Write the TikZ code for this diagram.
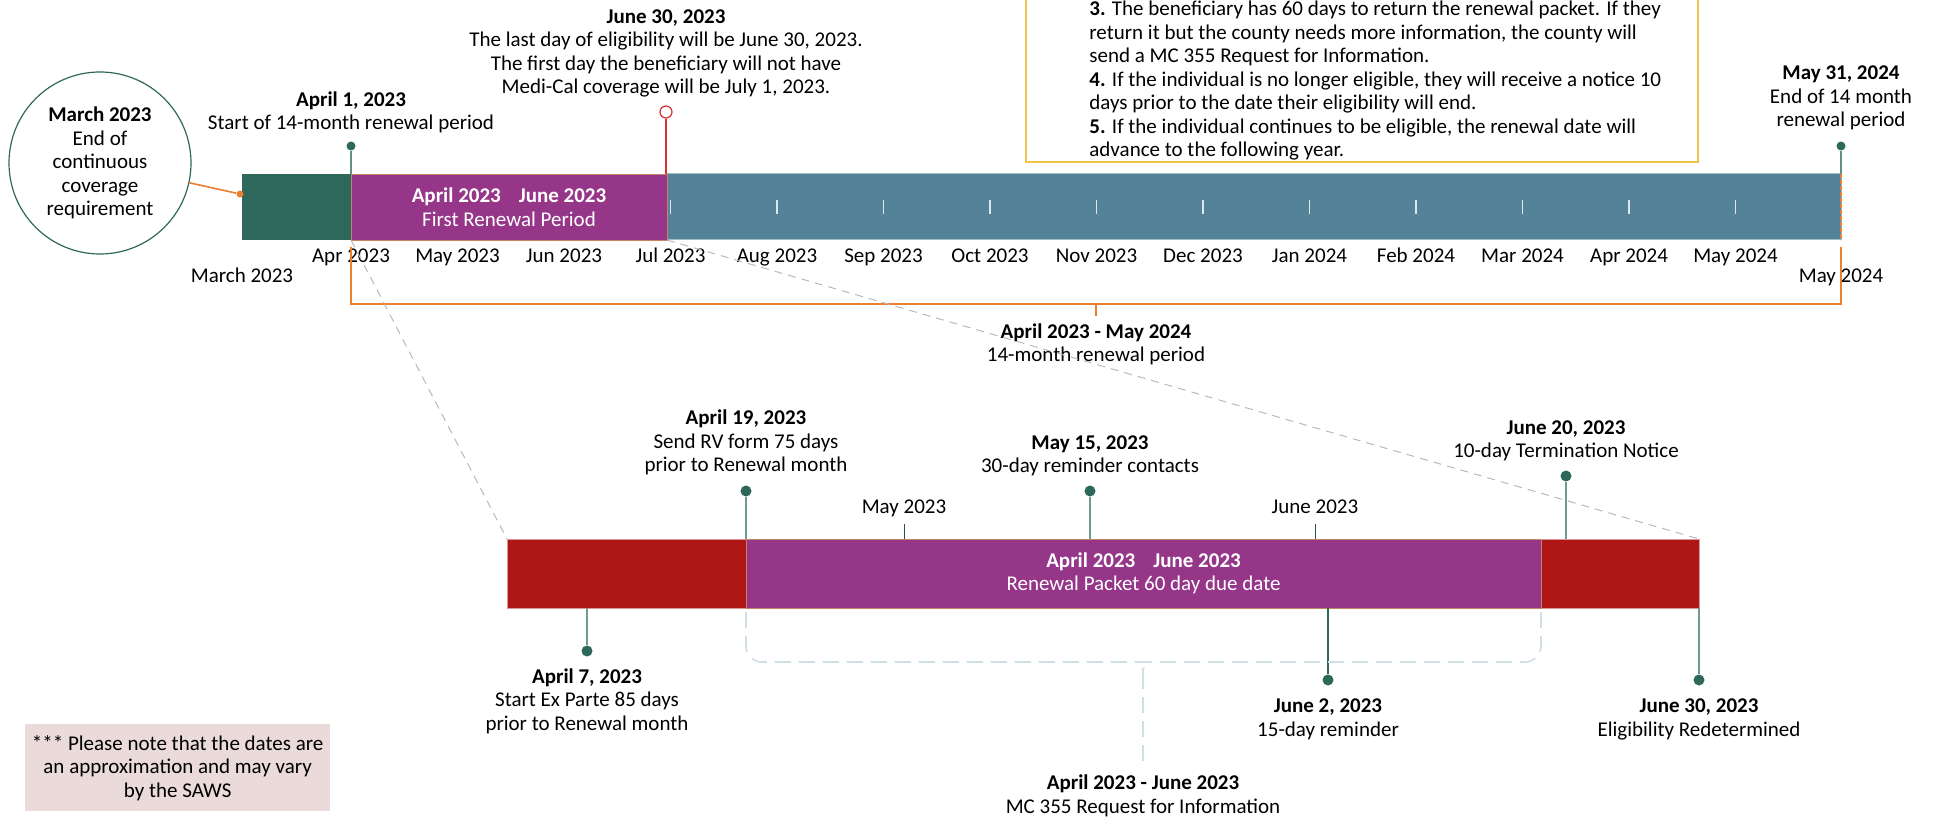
\documentclass[tikz,border=0pt]{standalone}
\usepackage{fontspec}
\setmainfont{Carlito}
\usetikzlibrary{positioning}

\definecolor{ccgreen}{RGB}{46,104,90}
\definecolor{ccstem}{RGB}{110,155,143}
\definecolor{ccpurple}{RGB}{149,54,137}
\definecolor{ccblue}{RGB}{84,131,153}
\definecolor{ccred}{RGB}{175,22,22}
\definecolor{ccopen}{RGB}{214,48,48}
\definecolor{ccorange}{RGB}{237,125,49}
\definecolor{ccgold}{RGB}{240,196,72}
\definecolor{ccgrey}{RGB}{185,185,185}
\definecolor{ccpale}{RGB}{208,222,230}
\definecolor{ccpink}{RGB}{234,218,218}

\begin{document}
\begin{tikzpicture}[x=0.5pt,y=-0.5pt,
                font=\fontsize{10.5}{11.75}\selectfont,
                bar/.style={inner sep=0pt,outer sep=0pt,anchor=north west},
                lbl/.style={align=center,anchor=base,inner sep=0pt},
                dot/.style={circle,fill=ccgreen,inner sep=0pt,minimum size=5.5pt},
                stem/.style={ccstem,line width=0.6pt},
                tick/.style={white!80!ccblue,line width=0.7pt},
                zoomline/.style={ccgrey,line width=0.5pt,dash pattern=on 4pt off 3pt},
                brk/.style={ccpale,line width=0.8pt,dash pattern=on 8pt off 4pt}]
                \useasboundingbox (0,0) rectangle (1933,823);

                \node[bar,fill=ccgreen,minimum width=54.5pt,minimum height=33pt] (mar) at (242,174) {};
                \node[bar,fill=ccblue,draw=ccblue!55!white,line width=0.5pt,minimum width=587pt,minimum height=33pt] (rest) at (667,174) {};
                \node[bar,fill=ccpurple,draw=ccgold!55!ccpurple,line width=0.4pt,minimum width=158pt,minimum height=33pt,
                      text=white,align=center] (first) at (351,174) {\textbf{April 2023\hspace{9pt}June 2023}\\First Renewal Period};
                \draw[ccorange,line width=0.6pt,dash pattern=on 2pt off 1pt] (rest.north east) -- (rest.south east);
                \foreach \k in {3,...,13}
                    \draw[tick] (351+106.5*\k,200) -- ++(0,14);

                \foreach \m [count=\k from 0] in {Apr 2023,May 2023,Jun 2023,Jul 2023,Aug 2023,Sep 2023,Oct 2023,Nov 2023,Dec 2023,Jan 2024,Feb 2024,Mar 2024,Apr 2024,May 2024}
                    \node[lbl] (mon\k) at (351+106.5*\k,263) {\m};
                \node[lbl] (marlbl) at (242,283) {March 2023};
                \node[lbl] (maylbl) at (1841,283) {May 2024};

                \draw[ccorange,line width=0.8pt] ([yshift=-3.5pt]first.south west) |- ([yshift=-32pt]rest.south east) -- ([yshift=-3.5pt]rest.south east);
                \node[lbl] (span) at (1096,362) {\textbf{April 2023 - May 2024}\\14-month renewal period};
                \draw[ccorange,line width=0.8pt] (1096,304) -- ++(0,12);

                \node[circle,draw=ccgreen,line width=0.6pt,minimum size=91pt,inner sep=0pt,align=center] (endcc) at (100,163)
                      {\textbf{March 2023}\\End of\\continuous\\coverage\\requirement};
                \node[circle,fill=ccorange,inner sep=0pt,minimum size=3.5pt] (ccdot) at (240,194) {};
                \draw[ccorange,line width=0.8pt] (endcc) -- (ccdot);

                \node[dot,minimum size=4.5pt] (apr1) at (351,146) {};
                \draw[ccgreen!75!white,line width=0.6pt] (apr1) -- (apr1 |- first.north);
                \node[lbl] (apr1lbl) at (351,130) {\textbf{April 1, 2023}\\Start of 14-month renewal period};

                \node[circle,draw=ccopen,fill=white,line width=0.6pt,inner sep=0pt,minimum size=6pt] (jun30) at (666,112) {};
                \draw[ccopen,line width=0.6pt] (jun30) -- (jun30 |- first.north);
                \node[lbl] (jun30lbl) at (666,94) {\textbf{June 30, 2023}\\The last day of eligibility will be June 30, 2023.\\The first day the beneficiary will not have\\Medi-Cal coverage will be July 1, 2023.};

                \node[dot,minimum size=4.5pt] (may31) at (1841,146) {};
                \draw[ccgreen!75!white,line width=0.6pt] (may31) -- (may31 |- rest.north);
                \node[lbl] (may31lbl) at (1841,127) {\textbf{May 31, 2024}\\End of 14 month\\renewal period};

                \node[draw=ccgold,line width=0.8pt,anchor=south west,minimum width=336pt,minimum height=101.5pt] (infobox) at (1025,163) {};
                \node[anchor=base west,align=left,inner sep=0pt] (steps) at (1089,157)
                      {\textbf{3.} The beneficiary has 60 days to return the renewal packet. If they\\return it but the county needs more information, the county will\\send a MC 355 Request for Information.\\\textbf{4.} If the individual is no longer eligible, they will receive a notice 10\\days prior to the date their eligibility will end.\\\textbf{5.} If the individual continues to be eligible, the renewal date will\\advance to the following year.};

                \node[bar,fill=ccred,draw=ccred!45!white,line width=0.5pt,minimum width=119.5pt,minimum height=34.5pt] (exparte) at (507,539) {};
                \node[bar,fill=ccred,draw=ccred!45!white,line width=0.5pt,minimum width=79pt,minimum height=34.5pt] (notice) at (1541,539) {};
                \node[bar,fill=ccpurple,draw=ccgold!55!ccpurple,line width=0.4pt,minimum width=397.5pt,minimum height=34.5pt,
                      text=white,align=center] (packet) at (746,539) {\textbf{April 2023\hspace{9pt}June 2023}\\Renewal Packet 60 day due date};

                \draw[zoomline] (first.south west) -- (exparte.north west);
                \draw[zoomline] (first.south east) -- (notice.north east);

                \node[lbl] (maylo) at (904,513) {May 2023};
                \node[lbl] (junlo) at (1315,513) {June 2023};
                \draw[ccgreen!80!black,line width=0.5pt] ([yshift=-5.5pt]maylo.base) -- (maylo.base |- packet.north);
                \draw[ccgreen!80!black,line width=0.5pt] ([yshift=-5.5pt]junlo.base) -- (junlo.base |- packet.north);

                \node[dot] (apr19) at (746,491) {};
                \draw[stem] (apr19) -- (apr19 |- packet.north);
                \node[lbl] (apr19lbl) at (746,472) {\textbf{April 19, 2023}\\Send RV form 75 days\\prior to Renewal month};

                \node[dot] (may15) at (1090,491) {};
                \draw[stem] (may15) -- (may15 |- packet.north);
                \node[lbl] (may15lbl) at (1090,473) {\textbf{May 15, 2023}\\30-day reminder contacts};

                \node[dot] (jun20) at (1566,476) {};
                \draw[stem] (jun20) -- (jun20 |- notice.north);
                \node[lbl] (jun20lbl) at (1566,458) {\textbf{June 20, 2023}\\10-day Termination Notice};

                \node[dot] (apr7) at (587,651) {};
                \draw[stem] (apr7) -- (apr7 |- exparte.south);
                \node[lbl] (apr7lbl) at (587,730) {\textbf{April 7, 2023}\\Start Ex Parte 85 days\\prior to Renewal month};

                \node[dot] (jun2) at (1328,680) {};
                \draw[ccgreen,line width=0.6pt] (jun2) -- (jun2 |- packet.south);
                \node[lbl] (jun2lbl) at (1328,736) {\textbf{June 2, 2023}\\15-day reminder};

                \node[dot] (elig) at (1699,680) {};
                \draw[stem] (elig) -- (elig |- notice.south);
                \node[lbl] (eliglbl) at (1699,736) {\textbf{June 30, 2023}\\Eligibility Redetermined};

                \coordinate (tip) at (1143,673);
                \draw[brk,rounded corners=8pt] ([yshift=-2pt]packet.south west) |- (1132,662) to[out=0,in=90] (tip);
                \draw[brk,rounded corners=8pt] ([yshift=-2pt]packet.south east) |- (1154,662) to[out=180,in=90] (tip);
                \node[lbl] (mc355) at (1143,813) {\textbf{April 2023 - June 2023}\\MC 355 Request for Information};
                \draw[brk] (tip) -- (1143,765);

                \node[fill=ccpink,anchor=north west,minimum width=152.75pt,minimum height=43.5pt,inner sep=0pt,align=center] (note) at (24.5,724)
                      {*** Please note that the dates are\\an approximation and may vary\\by the SAWS};
            \end{tikzpicture}
\end{document}
